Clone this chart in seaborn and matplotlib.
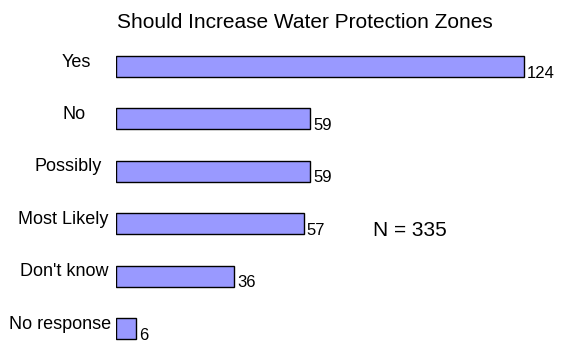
import matplotlib
matplotlib.use("Agg")
import matplotlib.pyplot as plt
import seaborn as sns
import pandas as pd

categories = ["Yes", "No", "Possibly", "Most Likely", "Don't know", "No response"]
counts = [124, 59, 59, 57, 36, 6]
title = "Should Increase Water Protection Zones"
note = "N = 335"

# horizontal centre of each category label, in figure pixels
label_centers_px = [76.5, 74, 68, 63, 64, 60]

sns.set_theme(style="white")
plt.rcParams["font.family"] = ["Liberation Sans", "DejaVu Sans"]
plt.rcParams["text.color"] = "black"

W, H = 561, 343
fig = plt.figure(figsize=(W / 100, H / 100), dpi=100)

# axes placed in pixel terms: zero of the value scale at x=116
left_px, right_px = 116, 561
top_px, bot_px = 30, 343
ax = fig.add_axes([left_px / W, 1 - bot_px / H, (right_px - left_px) / W, (bot_px - top_px) / H])

df = pd.DataFrame({"category": categories, "count": counts})
sns.barplot(data=df, x="count", y="category", orient="h", color="#9999FF",
            saturation=1, edgecolor="black", linewidth=1, width=0.40, ax=ax)

px_per_unit = 3.29
ax.set_xlim(0, (right_px - left_px) / px_per_unit)
y0, step = 66.5, 52.4
ax.set_ylim((bot_px - y0) / step, (top_px - y0) / step)

for i, (cat, val) in enumerate(zip(categories, counts)):
    ax.annotate(cat, xy=(0, i), xytext=(label_centers_px[i] - left_px, 0),
                textcoords="offset pixels", ha="center", va="baseline",
                fontsize=13, color="black")
    ax.annotate(str(val), xy=(val, i), xytext=(3, -11), textcoords="offset pixels",
                ha="left", va="baseline", fontsize=12, color="black")

fig.text(117 / W, 1 - 28 / H, title, ha="left", va="baseline", fontsize=15, color="black")
fig.text(409.5 / W, 1 - 236 / H, note, ha="center", va="baseline", fontsize=15, color="black")

ax.set_xlabel("")
ax.set_ylabel("")
ax.set_xticks([])
ax.set_yticks([])
for s in ax.spines.values():
    s.set_visible(False)
ax.patch.set_alpha(0)

fig.savefig("out.png", dpi=100)
